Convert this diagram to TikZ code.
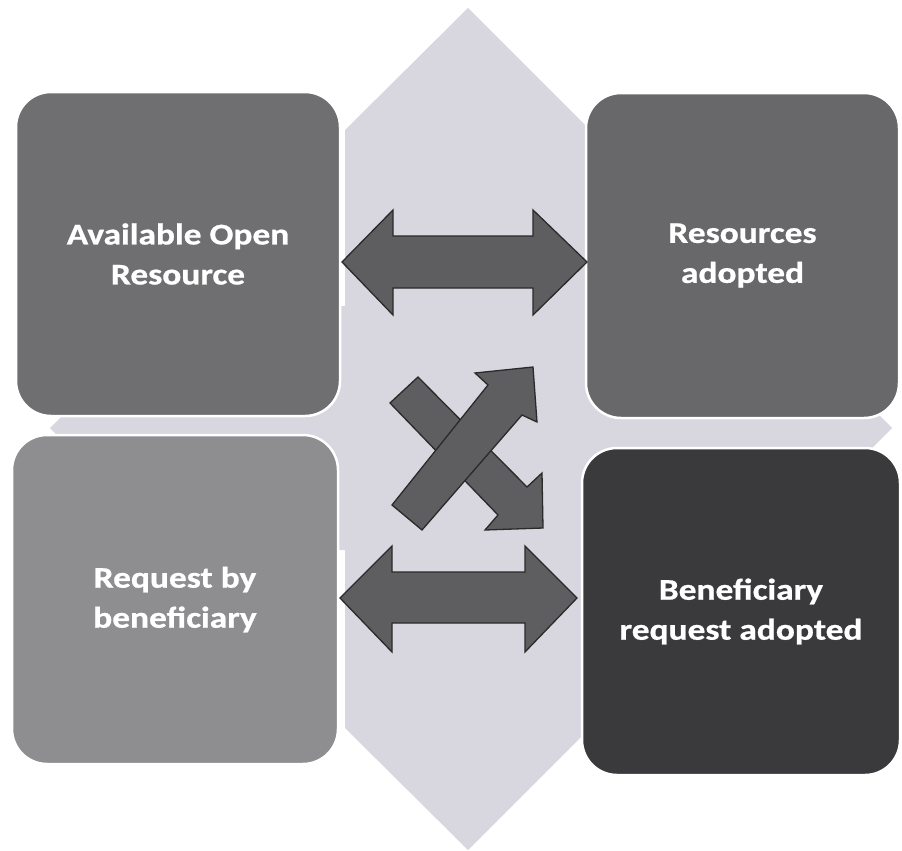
\documentclass[tikz,border=0pt]{standalone}
\usepackage{fontspec}
\setmainfont{Carlito}[FakeStretch=1.18, BoldFeatures={FakeBold=0.8}]
\definecolor{bgshape}{HTML}{D8D6DE}
\definecolor{boxtl}{HTML}{6F6F71}
\definecolor{boxtr}{HTML}{68686A}
\definecolor{boxbl}{HTML}{8E8E91}
\definecolor{boxbr}{HTML}{3A3A3C}
\definecolor{arrfill}{HTML}{5E5E61}
\definecolor{arrline}{HTML}{2A2A2A}
\tikzset{
  quadbox/.style={rectangle, rounded corners=35pt, draw=white, line width=2.5pt,
    text=white, align=center, inner sep=0pt,
    font=\fontsize{30}{40}\selectfont\bfseries},
  blockarrow/.style={fill=arrfill, draw=arrline, line width=1.3pt, line join=miter}
}
\begin{document}
\begin{tikzpicture}[x=1pt,y=-1pt]
\useasboundingbox (0,0) rectangle (902,851);
% background four-pointed shape
\fill[bgshape] (468,8) -- (590,130) -- (590,306) -- (770,306) -- (892,428)
  -- (770,550) -- (590,550) -- (590,728) -- (468,850) -- (345,728)
  -- (345,550) -- (172,550) -- (50,428) -- (172,306) -- (345,306)
  -- (345,130) -- cycle;
% quadrant boxes
\node[quadbox, fill=boxtl, minimum width=324pt, minimum height=324pt] (tl) at (178,254) {Available Open\\Resource};
\node[quadbox, fill=boxtr, minimum width=313pt, minimum height=325pt] (tr) at (742.5,255.5) {Resources\\adopted};
\node[quadbox, fill=boxbl, minimum width=326pt, minimum height=329pt] (bl) at (175,599.5) {Request by\\beneficiary};
\node[quadbox, fill=boxbr, minimum width=318pt, minimum height=327pt] (br) at (741,611.5) {Beneficiary\\request adopted};
% top double arrow
\draw[blockarrow] (342,262) -- (393,210) -- (393,236) -- (533,236) -- (533,210)
  -- (587,262) -- (533,315) -- (533,288) -- (393,288) -- (393,315) -- cycle;
% bottom double arrow
\draw[blockarrow] (340,598) -- (392,546) -- (392,572) -- (525,572) -- (525,546)
  -- (577,598) -- (525,652) -- (525,623) -- (392,623) -- (392,652) -- cycle;
% crossing arrows: down-right arrow (below)
\draw[blockarrow] (418,377) -- (527,487) -- (542,473) -- (543,528) -- (485,530)
  -- (498,515) -- (390,403) -- cycle;
% up-right arrow (on top)
\draw[blockarrow] (392,505) -- (488,385) -- (475,373) -- (533,367) -- (537,422)
  -- (522,415) -- (422,530) -- cycle;
\end{tikzpicture}
\end{document}
